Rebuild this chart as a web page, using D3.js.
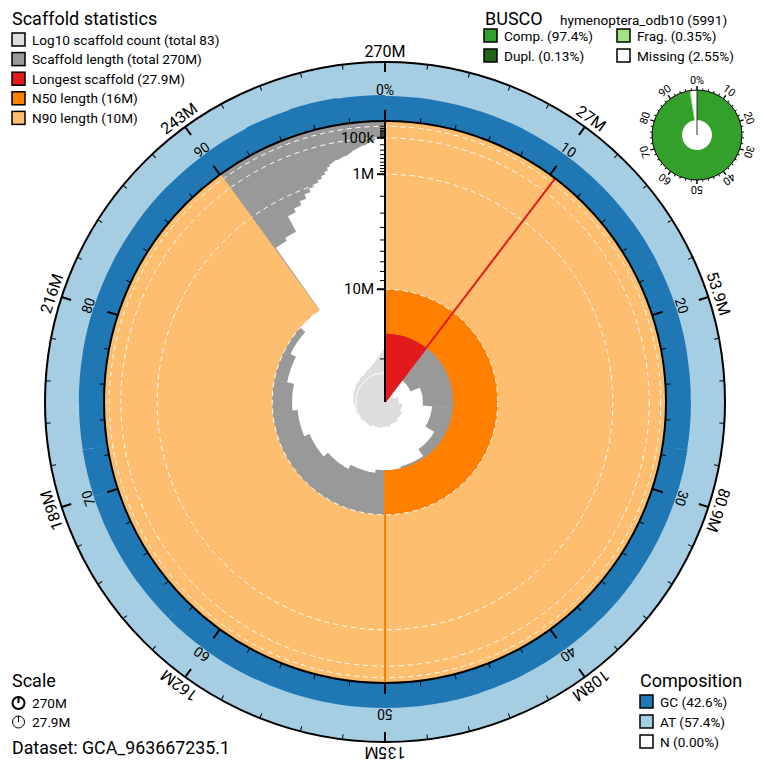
<!DOCTYPE html>
<html>
<head>
<meta charset="utf-8">
<script src="https://cdn.jsdelivr.net/npm/d3@7"></script>
<style>
body { margin:0; background:#fff; }
svg text { font-family: Roboto, "Noto Sans", sans-serif; fill:#000; }
</style>
</head>
<body>
<svg id="snail" width="764" height="769"></svg>
<script>
// scaffold lengths in Mb, longest first (83 scaffolds)
var scaffoldLengths = [27.9, 22.7, 20.9, 19.3, 17.6, 16.3, 16.0, 15.5, 14.8, 14.0, 13.2, 12.5, 11.6, 10.8, 10.0,
  3.0, 2.8, 1.8, 1.6, 1.4, 1.2, 1.05, 0.95,
  0.85, 0.75, 0.65, 0.55, 0.48, 0.45, 0.42, 0.42, 0.40, 0.38, 0.36, 0.36, 0.34, 0.32, 0.30, 0.28, 0.26, 0.25,
  0.24, 0.23, 0.22, 0.21, 0.20, 0.20, 0.19, 0.19, 0.18,
  0.17, 0.16, 0.16, 0.15, 0.15, 0.14, 0.14, 0.13, 0.13, 0.12, 0.12, 0.11, 0.11, 0.10, 0.10, 0.095, 0.09,
  0.085, 0.08, 0.075, 0.07, 0.065, 0.06, 0.055, 0.05, 0.046, 0.042, 0.038, 0.034, 0.03, 0.027, 0.024, 0.02];

// GC % along the assembly, 2.5% bins
var gcPercent = [42.3, 42.1, 42.4, 42.2, 42.0, 42.3, 42.5, 42.2, 42.4, 42.1,
  42.3, 42.6, 42.4, 42.2, 42.5, 42.3, 42.1, 42.4, 42.6, 42.3,
  42.5, 42.2, 42.4, 42.7, 42.5, 42.3, 42.6, 42.8, 42.5, 42.4,
  42.7, 42.9, 42.6, 42.8, 43.0, 42.9, 43.4, 44.6, 45.5, 44.2];

var scaffoldLegend = ['Log10 scaffold count (total 83)', 'Scaffold length (total 270M)', 'Longest scaffold (27.9M)', 'N50 length (16M)', 'N90 length (10M)'];
var scaffoldColours = ['#dddddd', '#999999', '#e31a1c', '#ff7f00', '#fdbf6f'];

var buscoLineage = 'hymenoptera_odb10 (5991)';
var buscoNames = ['Comp.', 'Dupl.', 'Frag.', 'Missing'];
var buscoValues = [97.4, 0.13, 0.35, 2.55];
var buscoColours = ['#33a02c', '#20641c', '#a3e283', '#ffffff'];

var compNames = ['GC (42.6%)', 'AT (57.4%)', 'N (0.00%)'];
var compColours = ['#1f78b4', '#a6cee3', '#ffffff'];

var pctLabels = [0, 10, 20, 30, 40, 50, 60, 70, 80, 90];
var lengthTicks = [1e4, 2e4, 3e4, 4e4, 5e4, 6e4, 7e4, 8e4, 9e4, 1e5, 2e5, 3e5, 4e5, 5e5, 6e5, 7e5, 8e5, 9e5,
  1e6, 2e6, 3e6, 4e6, 5e6, 6e6, 7e6, 8e6, 9e6, 1e7, 2e7];
var lengthLabels = [1e5, 1e6, 1e7];
var gridLengths = [1e4, 1e5, 1e6, 1e7];

var svg = d3.select('#snail');
var cx = 385, cy = 402, R = 281, Ro = 340;
var g = svg.append('g').attr('transform', 'translate(' + cx + ',' + cy + ')');

var bp = scaffoldLengths.map(function(d) { return d * 1e6; });
var total = d3.sum(bp);
var longest = bp[0];
var cum = d3.cumsum(bp);
var nx = function(p) {
  var i = cum.findIndex(function(c) { return c >= total * p; });
  return bp[i];
};
var n50 = nx(0.5), n90 = nx(0.9);

var rad = d3.scaleSqrt().domain([0, longest]).range([R, 0]);
var ang = d3.scaleLinear().domain([0, total]).range([0, 2 * Math.PI]);
var rc = d3.scaleLog().domain([1, bp.length]).range([0, R / 5]);
var arc = d3.arc();
var TAU = 2 * Math.PI;

// composition ring
g.append('path').attr('d', arc({innerRadius: R, outerRadius: Ro, startAngle: 0, endAngle: TAU})).attr('fill', '#a6cee3');
var bin = TAU / gcPercent.length;
g.append('path')
  .attr('d', gcPercent.map(function(d, i) {
    return arc({innerRadius: R, outerRadius: R + (Ro - R) * d / 100, startAngle: i * bin, endAngle: (i + 1) * bin});
  }).join(''))
  .attr('fill', '#1f78b4');

// scaffold length
g.append('path')
  .attr('d', bp.map(function(d, i) {
    return arc({innerRadius: rad(d), outerRadius: R, startAngle: ang(cum[i] - d), endAngle: ang(cum[i])});
  }).join(''))
  .attr('fill', '#999999');

g.append('path').attr('d', arc({innerRadius: 0, outerRadius: R, startAngle: 0, endAngle: ang(longest)})).attr('fill', '#e31a1c');
g.append('path').attr('d', arc({innerRadius: rad(n50), outerRadius: R, startAngle: 0, endAngle: Math.PI})).attr('fill', '#ff7f00');
g.append('path').attr('d', arc({innerRadius: rad(n90), outerRadius: R, startAngle: 0, endAngle: TAU * 0.9})).attr('fill', '#fdbf6f');

// log10 count
var countPath = bp.map(function(d, i) {
  return arc({innerRadius: 0, outerRadius: rc(i + 1), startAngle: ang(cum[i] - d), endAngle: ang(cum[i])});
}).join('');
g.append('clipPath').attr('id', 'countclip').append('path').attr('d', countPath);
g.append('path').attr('d', countPath).attr('fill', '#dddddd');
g.append('circle').attr('r', rc(10)).attr('fill', 'none').attr('stroke', '#fff').attr('stroke-width', 1)
  .attr('clip-path', 'url(#countclip)');

// length grid
g.selectAll('circle.grid').data(gridLengths).enter().append('circle')
  .attr('class', 'grid')
  .attr('r', function(d) { return rad(d); })
  .attr('fill', 'none').attr('stroke', '#fff').attr('stroke-width', 1).attr('stroke-dasharray', '5,4');

var radial = function(a, r1, r2, col, w) {
  g.append('line')
    .attr('transform', 'rotate(' + (a * 180 / Math.PI) + ')')
    .attr('y1', -r1).attr('y2', -r2)
    .attr('stroke', col).attr('stroke-width', w);
};
radial(ang(longest), rad(longest), R, '#e31a1c', 2);
radial(Math.PI, rad(n50), R, '#ff7f00', 2);
radial(TAU * 0.9, rad(n90), R, '#fdbf6f', 2);

// circles
g.append('circle').attr('r', R).attr('fill', 'none').attr('stroke', '#000').attr('stroke-width', 2);
g.append('circle').attr('r', Ro).attr('fill', 'none').attr('stroke', '#000').attr('stroke-width', 2);

// percent axis
var ticks2 = d3.range(0, 100, 2);
g.selectAll('line.ptick').data(ticks2).enter().append('line')
  .attr('transform', function(d) { return 'rotate(' + d * 3.6 + ')'; })
  .attr('y1', -R).attr('y2', function(d) { return -(R + (d % 10 ? 5 : 11)); })
  .attr('stroke', '#000').attr('stroke-width', function(d) { return d % 10 ? 1 : 2; });
g.selectAll('text.plabel').data(pctLabels).enter().append('text')
  .attr('transform', function(d) { return 'rotate(' + d * 3.6 + ')'; })
  .attr('y', -(R + 26))
  .attr('text-anchor', 'middle')
  .style('font-size', '14px')
  .text(function(d) { return d === 0 ? '0%' : d; });

// sequence axis
g.selectAll('line.otick').data(ticks2).enter().append('line')
  .attr('transform', function(d) { return 'rotate(' + d * 3.6 + ')'; })
  .attr('y1', -Ro).attr('y2', function(d) { return -(Ro - (d % 10 ? 5 : 10)); })
  .attr('stroke', '#000').attr('stroke-width', function(d) { return d % 10 ? 1 : 2; });
var fmt = d3.format('.3~s');
g.selectAll('text.olabel').data(pctLabels).enter().append('text')
  .attr('transform', function(d) { return 'rotate(' + d * 3.6 + ')'; })
  .attr('y', -(Ro + 5))
  .attr('text-anchor', 'middle')
  .style('font-size', '16px')
  .text(function(d) { return fmt(d === 0 ? total : total * d / 100); });

// radial length axis
g.append('line').attr('x1', 0).attr('x2', 0).attr('y1', 0).attr('y2', -R).attr('stroke', '#000').attr('stroke-width', 2);
g.selectAll('line.rtick').data(lengthTicks).enter().append('line')
  .attr('x1', 0)
  .attr('x2', function(d) { return lengthLabels.indexOf(d) !== -1 ? -8 : -5; })
  .attr('y1', function(d) { return -rad(d); })
  .attr('y2', function(d) { return -rad(d); })
  .attr('stroke', '#000').attr('stroke-width', function(d) { return lengthLabels.indexOf(d) !== -1 ? 2 : 1; });
g.selectAll('text.rlabel').data(lengthLabels).enter().append('text')
  .attr('x', -11)
  .attr('y', function(d) { return -rad(d); })
  .attr('dy', '0.35em')
  .attr('text-anchor', 'end')
  .style('font-size', '15px')
  .text(function(d) { return d3.format('~s')(d); });

// legends
var title = function(x, y, t) {
  svg.append('text').attr('x', x).attr('y', y).style('font-size', '18px').text(t);
};
var item = function(x, y, col, t) {
  svg.append('rect').attr('x', x).attr('y', y).attr('width', 13).attr('height', 13)
    .attr('fill', col).attr('stroke', '#000').attr('stroke-width', 1.5);
  svg.append('text').attr('x', x + 20).attr('y', y + 11.5).style('font-size', '13.6px').text(t);
};

title(12, 25, 'Scaffold statistics');
scaffoldLegend.forEach(function(t, i) { item(12, 33 + i * 19.6, scaffoldColours[i], t); });

title(485, 25, 'BUSCO');
svg.append('text').attr('x', 560).attr('y', 25).style('font-size', '13.6px').text(buscoLineage);
buscoNames.forEach(function(t, i) {
  item(i < 2 ? 484 : 617, 29 + (i % 2) * 20, buscoColours[i], t + ' (' + buscoValues[i] + '%)');
});

title(12, 687, 'Scale');
[[703, 2, fmt(total)], [722, 1, fmt(longest)]].forEach(function(s) {
  svg.append('circle').attr('cx', 18.5).attr('cy', s[0]).attr('r', 6).attr('fill', 'none').attr('stroke', '#000').attr('stroke-width', s[1]);
  svg.append('line').attr('x1', 18.5).attr('x2', 18.5).attr('y1', s[0]).attr('y2', s[0] - 6).attr('stroke', '#000').attr('stroke-width', s[1]);
  svg.append('text').attr('x', 32).attr('y', s[0] + 5).style('font-size', '13.6px').text(s[2]);
});
svg.append('text').attr('x', 12).attr('y', 754).style('font-size', '17.8px').text('Dataset: GCA_963667235.1');

title(640, 687, 'Composition');
compNames.forEach(function(t, i) { item(640, 695 + i * 20, compColours[i], t); });

// busco donut
var bg = svg.append('g').attr('transform', 'translate(697,135)');
var bIn = 15, bOut = 45;
var single = buscoValues[0] - buscoValues[1];
var bParts = [[0, single, buscoColours[0]], [single, buscoValues[0], buscoColours[1]],
  [buscoValues[0], buscoValues[0] + buscoValues[2], buscoColours[2]]];
var bAng = d3.scaleLinear().domain([0, 100]).range([0, TAU]);
bParts.forEach(function(p) {
  bg.append('path').attr('d', arc({innerRadius: bIn, outerRadius: bOut, startAngle: bAng(p[0]), endAngle: bAng(p[1])})).attr('fill', p[2]);
});
bg.append('circle').attr('r', bOut).attr('fill', 'none').attr('stroke', '#000').attr('stroke-width', 1);
bg.append('line').attr('y1', 0).attr('y2', -bOut).attr('stroke', '#333').attr('stroke-width', 1);
bg.selectAll('line.btick').data(ticks2).enter().append('line')
  .attr('transform', function(d) { return 'rotate(' + d * 3.6 + ')'; })
  .attr('y1', -bOut).attr('y2', function(d) { return -(bOut + (d % 10 ? 2 : 4)); })
  .attr('stroke', '#000').attr('stroke-width', function(d) { return d % 10 ? 1 : 1.5; });
bg.selectAll('text.blabel').data(pctLabels).enter().append('text')
  .attr('transform', function(d) { return 'rotate(' + d * 3.6 + ')'; })
  .attr('y', -(bOut + 6))
  .attr('text-anchor', 'middle')
  .style('font-size', '11px')
  .text(function(d) { return d === 0 ? '0%' : d; });
</script>
</body>
</html>
